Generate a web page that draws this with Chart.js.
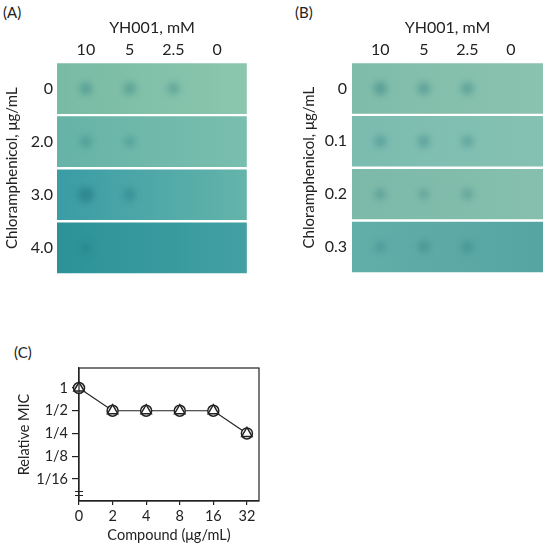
<!DOCTYPE html>
<html>
<head>
<meta charset="utf-8">
<script src="https://cdn.jsdelivr.net/npm/chart.js@4.4.0/dist/chart.umd.min.js"></script>
<style>
  body { margin: 0; background: #fff; font-family: Lato, sans-serif; }
  .wrap { position: relative; width: 550px; height: 545px; overflow: hidden; }
  .wrap canvas { position: absolute; }
  .tag { position: absolute; font-size: 15px; color: #222; line-height: 18px; }
</style>
</head>
<body>
<div class="wrap">
  <div class="tag" style="left:3px;top:3px">(A)</div>
  <div class="tag" style="left:295px;top:3px">(B)</div>
  <div class="tag" style="left:14px;top:343px">(C)</div>
  <canvas id="plateA" width="255" height="288" style="left:0;top:0"></canvas>
  <canvas id="plateB" width="253" height="288" style="left:297px;top:0"></canvas>
  <canvas id="micChart" width="270" height="205" style="left:0;top:340px"></canvas>
</div>
<script>
// spot plates: YH001 columns, chloramphenicol rows
const plateCols = ['10', '5', '2.5', '0'];
const rowsA = ['0', '2.0', '3.0', '4.0'];
const rowsB = ['0', '0.1', '0.2', '0.3'];

// how dark each spot looks on the photo (0 = nothing visible)
const spotsA = [
  [0.5, 0.5, 0.45, 0],
  [0.4, 0.3, 0, 0],
  [0.9, 0.5, 0, 0],
  [0.3, 0, 0, 0]
];
const spotsB = [
  [0.6, 0.5, 0.5, 0],
  [0.45, 0.45, 0.4, 0],
  [0.35, 0.3, 0.35, 0],
  [0.3, 0.4, 0.4, 0]
];

// relative MIC panel (values are log2 of the relative MIC)
const micDoses = ['0', '2', '4', '8', '16', '32'];
const micLabels = ['1', '1/2', '1/4', '1/8', '1/16'];
const micCircle = [0, -1, -1, -1, -1, -2];
const micTriangle = [0, -1, -1, -1, -1, -2];

// agar colours per row, left -> right
const shadeA = [['#78bba5', '#8cc6ae'], ['#66b3a7', '#79beae'], ['#3a9ca5', '#64b4aa'], ['#2c9298', '#42a0a2']];
const shadeB = [['#7fbcaa', '#8ac3af'], ['#7bbcb0', '#85c1b2'], ['#7cb9a9', '#86bfad'], ['#62aea8', '#56a5a3']];

const ink = '#222';
const font15 = { family: 'Lato', size: 15 };
const font16 = { family: 'Lato', size: 16 };
const fontC = { family: 'Lato', size: 14.5 };

// soft edges for the spots (spots are dataset 0, so they sit on top of the agar)
const blurSpots = {
  id: 'blurSpots',
  beforeDatasetDraw(chart, args) {
    if (args.index !== 0) return;
    chart.ctx.save();
    chart.ctx.filter = 'blur(3px)';
  },
  afterDatasetDraw(chart, args) {
    if (args.index !== 0) return;
    chart.ctx.restore();
  }
};

function plateChart(id, rows, spots, shades, xr, axisW, tickPad) {
  const pts = [];
  spots.forEach((r, i) => r.forEach((v, j) => {
    if (v > 0) pts.push({ x: j, y: rows[i], v: v });
  }));

  return new Chart(document.getElementById(id), {
    data: {
      labels: rows,
      datasets: [
        {
          type: 'scatter',
          data: pts,
          clip: false,
          pointRadius: c => 4.5 + 4 * (c.raw ? c.raw.v : 0),
          pointBorderWidth: 0,
          pointBackgroundColor: c => `rgba(25, 110, 118, ${0.14 + 0.36 * (c.raw ? c.raw.v : 0)})`
        },
        {
          type: 'bar',
          indexAxis: 'y',
          data: rows.map(() => xr),
          barPercentage: 0.955,
          categoryPercentage: 1,
          borderWidth: 0,
          backgroundColor: c => {
            const s = shades[c.dataIndex];
            const area = c.chart.chartArea;
            if (!s) return '#7fbfac';
            if (!area) return s[0];
            const g = c.chart.ctx.createLinearGradient(area.left, 0, area.right, 0);
            g.addColorStop(0, s[0]);
            g.addColorStop(1, s[1]);
            return g;
          }
        }
      ]
    },
    options: {
      responsive: false,
      animation: false,
      layout: { padding: { right: 2, bottom: 1 } },
      plugins: { legend: { display: false }, tooltip: { enabled: false } },
      scales: {
        x: {
          type: 'linear',
          position: 'top',
          min: xr[0],
          max: xr[1],
          afterBuildTicks: s => { s.ticks = plateCols.map((_, i) => ({ value: i })); },
          afterFit: s => { s.height = 62; },
          grid: { display: false, drawTicks: false },
          border: { display: false },
          ticks: { callback: v => plateCols[v], font: font16, color: ink, padding: 3, maxRotation: 0, autoSkip: false },
          title: { display: true, text: 'YH001, mM', font: font16, color: ink, padding: { top: 18, bottom: 0 } }
        },
        y: {
          type: 'category',
          labels: rows,
          offset: true,
          afterFit: s => { s.width = axisW; },
          grid: { display: false, drawTicks: false },
          border: { display: false },
          ticks: { font: font16, color: ink, padding: tickPad },
          title: { display: true, text: 'Chloramphenicol, μg/mL', font: font15, color: ink, padding: { top: 3, bottom: 0 } }
        }
      }
    },
    plugins: [blurSpots]
  });
}

plateChart('plateA', rowsA, spotsA, shadeA, [-0.66, 3.68], 57, 4);
plateChart('plateB', rowsB, spotsB, shadeB, [-0.65, 3.74], 55, 5);

// closed box plus the axis-break marks near the bottom of the y axis
const boxAndBreak = {
  id: 'boxAndBreak',
  afterDraw(chart) {
    const { ctx, chartArea: a, scales } = chart;
    ctx.save();
    ctx.strokeStyle = ink;
    ctx.lineWidth = 1.2;
    ctx.strokeRect(a.left, a.top, a.right - a.left, a.bottom - a.top);
    ctx.beginPath();
    [-4.55, -4.7].forEach(v => {
      const py = Math.round(scales.y.getPixelForValue(v)) + 0.5;
      ctx.moveTo(a.left - 4, py);
      ctx.lineTo(a.left + 4, py);
    });
    ctx.stroke();
    ctx.restore();
  }
};

new Chart(document.getElementById('micChart'), {
  type: 'line',
  data: {
    datasets: [
      {
        label: 'triangle',
        data: micTriangle.map((v, i) => ({ x: i, y: v })),
        showLine: false,
        clip: false,
        pointStyle: 'triangle',
        pointRadius: 6,
        pointBackgroundColor: '#fff',
        pointBorderColor: ink,
        pointBorderWidth: 1.5
      },
      {
        label: 'circle',
        data: micCircle.map((v, i) => ({ x: i, y: v })),
        clip: false,
        borderColor: ink,
        borderWidth: 1.2,
        tension: 0,
        pointStyle: 'circle',
        pointRadius: 5.5,
        pointBackgroundColor: '#fff',
        pointBorderColor: ink,
        pointBorderWidth: 1.5
      }
    ]
  },
  options: {
    responsive: false,
    animation: false,
    layout: { padding: { top: 28, right: 11 } },
    plugins: { legend: { display: false }, tooltip: { enabled: false } },
    scales: {
      x: {
        type: 'linear',
        min: 0,
        max: 5.36,
        afterBuildTicks: s => { s.ticks = micDoses.map((_, i) => ({ value: i })); },
        afterFit: s => { s.height = 44; },
        grid: { display: true, drawOnChartArea: false, tickLength: 4, color: ink, lineWidth: 1.2 },
        border: { display: true, color: ink, width: 1.2 },
        ticks: { callback: v => micDoses[v], font: fontC, color: ink, padding: 3, maxRotation: 0, autoSkip: false },
        title: { display: true, text: 'Compound (μg/mL)', font: fontC, color: ink, padding: { top: 0, bottom: 1 } }
      },
      y: {
        type: 'linear',
        min: -4.97,
        max: 0.88,
        afterBuildTicks: s => { s.ticks = micLabels.map((_, i) => ({ value: -i })); },
        afterFit: s => { s.width = 79; },
        grid: { display: true, drawOnChartArea: false, tickLength: 7, color: ink, lineWidth: 1.2 },
        border: { display: true, color: ink, width: 1.2 },
        ticks: { callback: v => micLabels[-v], font: fontC, color: ink, padding: 4, autoSkip: false },
        title: { display: true, text: 'Relative MIC', font: fontC, color: ink, padding: { top: 16, bottom: 0 } }
      }
    }
  },
  plugins: [boxAndBreak]
});
</script>
</body>
</html>
